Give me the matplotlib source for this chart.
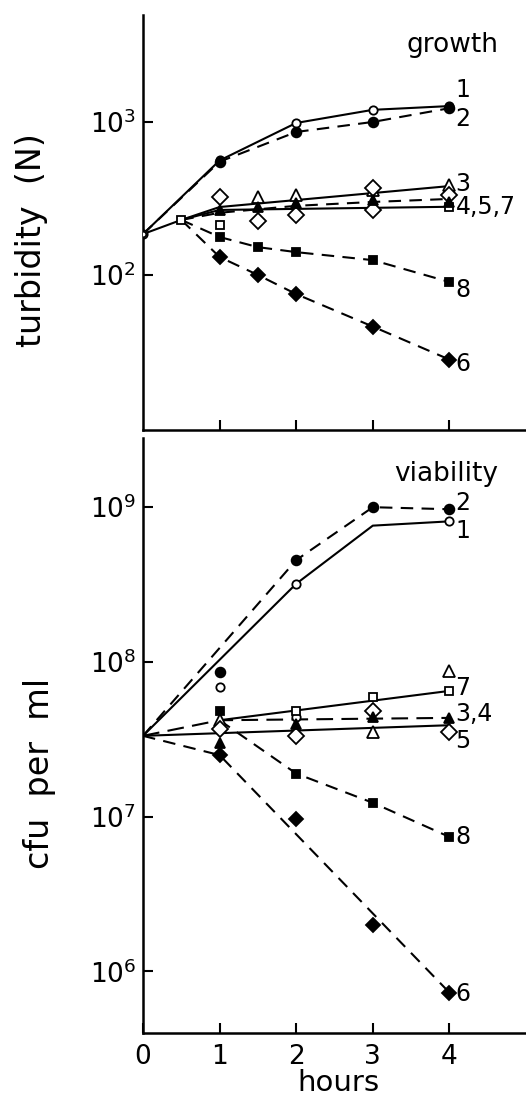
import numpy as np
import matplotlib.pyplot as plt
from matplotlib.ticker import NullLocator

# ---- top panel: growth, turbidity (N) ----
g_t = [0, 1, 2, 3, 4]
g1 = [185, 560, 985, 1200, 1270]          # 1 open circles, solid
g2 = [185, 550, 860, 1000, 1230]          # 2 filled circles, dashed

g_start_t = [0, 0.5]
g_start = [185, 229]                      # common line to the 0.5 h sample

g_tl = [0.5, 1, 1.5, 2, 3, 4]
g8 = [229, 177, 152, 141, 125, 90]        # 8 filled squares, dashed
g6 = [229, 131, 100, 75, 46, 28]          # 6 filled diamonds, dashed

g3_line_t = [0.5, 1, 4]
g3_line = [229, 278, 381]
g3_mt = [1.5, 2, 3, 4]
g3_m = [324, 333, 360, 388]               # 3 open triangles

g4_line_t = [0.5, 1, 2, 3, 4]
g4_line = [229, 255, 283, 300, 314]
g4_mt = [1, 1.5, 2, 3, 4]
g4_m = [266, 279, 296, 309, 300]          # 4 filled triangles

g5_line_t = [0.5, 1, 4]
g5_line = [229, 266, 279]
g5_mt = [1, 1.5, 2, 3, 3, 4]
g5_m = [324, 225, 246, 370, 266, 333]     # 5 open diamonds

g7_mt = [0.5, 1, 4]
g7_m = [229, 212, 279]                    # 7 open squares

# ---- bottom panel: viability, cfu per ml ----
v1_line_t = [0, 2, 3, 4]
v1_line = [3.33e7, 3.2e8, 7.6e8, 8.1e8]
v1_mt = [1, 2, 4, 2]
v1_m = [6.9e7, 3.2e8, 8.1e8, 4.4e7]

v2_line_t = [0, 2, 3, 4]
v2_line = [3.33e7, 4.55e8, 1.0e9, 9.7e8]
v2_mt = [1, 2, 3, 4]
v2_m = [8.6e7, 4.55e8, 1.0e9, 9.7e8]

v34_line_t = [0, 1, 4]
v34_line = [3.33e7, 4.2e7, 4.35e7]
v34_mt = [1, 2, 3, 4]
v34_m = [3.0e7, 4.0e7, 4.4e7, 4.35e7]
v3o_mt = [1, 3, 4]
v3o_m = [4.2e7, 3.5e7, 8.7e7]

v5_line_t = [0, 4]
v5_line = [3.33e7, 3.9e7]
v5_mt = [1, 2, 3, 4]
v5_m = [3.7e7, 3.3e7, 4.8e7, 3.5e7]

v7_line_t = [1, 4]
v7_line = [4.2e7, 6.5e7]
v7_mt = [2, 3, 4]
v7_m = [4.8e7, 5.9e7, 6.5e7]

v8_line_t = [1, 2, 3, 4]
v8_line = [4.2e7, 1.9e7, 1.23e7, 7.4e6]
v8_mt = [1, 2, 3, 4]
v8_m = [4.8e7, 1.9e7, 1.23e7, 7.4e6]

v6_line_t = [0, 1, 4]
v6_line = [3.33e7, 2.5e7, 7.3e5]
v6_mt = [1, 2, 3, 4]
v6_m = [2.5e7, 9.6e6, 2.0e6, 7.3e5]

top_labels = [("1", 1620), ("2", 1040), ("3", 395), ("4,5,7", 278), ("8", 80), ("6", 26)]
bot_labels = [("2", 1.06e9), ("1", 7.0e8), ("7", 6.8e7), ("3,4", 4.6e7), ("5", 3.1e7),
              ("8", 7.4e6), ("6", 7.1e5)]

K = 'black'
LW = 1.5
DASH = (0, (6, 4))

fig = plt.figure(figsize=(5.26, 10.98), dpi=100)
ax1 = fig.add_axes([143 / 526, 1 - 430 / 1098, 383 / 526, 415 / 1098])
ax2 = fig.add_axes([143 / 526, 1 - 1033 / 1098, 383 / 526, 595 / 1098])


def mark(ax, t, v, m, ms, filled):
    ax.plot(t, v, ls='none', marker=m, ms=ms, mec=K, mew=1.3,
            mfc=K if filled else 'white', zorder=4 if filled else 3)


# top panel
ax1.plot(g_t, g1, color=K, lw=LW)
ax1.plot(g_t, g2, color=K, lw=LW, ls=DASH)
ax1.plot(g_start_t, g_start, color=K, lw=LW)
ax1.plot(g_tl, g8, color=K, lw=LW, ls=DASH)
ax1.plot(g_tl, g6, color=K, lw=LW, ls=DASH)
ax1.plot(g3_line_t, g3_line, color=K, lw=LW)
ax1.plot(g4_line_t, g4_line, color=K, lw=LW, ls=DASH)
ax1.plot(g5_line_t, g5_line, color=K, lw=LW)

mark(ax1, g_t, g1, 'o', 6, False)
mark(ax1, g_t[1:], g2[1:], 'o', 7, True)
mark(ax1, [0], [185], 'o', 4, False)
mark(ax1, g_tl[1:], g8[1:], 's', 5.5, True)
mark(ax1, g_tl[1:], g6[1:], 'D', 7.5, True)
mark(ax1, g3_mt, g3_m, '^', 8, False)
mark(ax1, g5_mt, g5_m, 'D', 8, False)
mark(ax1, g7_mt, g7_m, 's', 6, False)
mark(ax1, g4_mt, g4_m, '^', 7, True)

# bottom panel
ax2.plot(v1_line_t, v1_line, color=K, lw=LW)
ax2.plot(v2_line_t, v2_line, color=K, lw=LW, ls=DASH)
ax2.plot(v34_line_t, v34_line, color=K, lw=LW, ls=(0, (8, 4)))
ax2.plot(v5_line_t, v5_line, color=K, lw=LW)
ax2.plot(v7_line_t, v7_line, color=K, lw=LW)
ax2.plot(v8_line_t, v8_line, color=K, lw=LW, ls=DASH)
ax2.plot(v6_line_t, v6_line, color=K, lw=LW, ls=DASH)

mark(ax2, v1_mt, v1_m, 'o', 6, False)
mark(ax2, v2_mt, v2_m, 'o', 7, True)
mark(ax2, v3o_mt, v3o_m, '^', 8, False)
mark(ax2, v5_mt, v5_m, 'D', 8, False)
mark(ax2, v7_mt, v7_m, 's', 6, False)
mark(ax2, v34_mt, v34_m, '^', 7, True)
mark(ax2, v8_mt, v8_m, 's', 5.5, True)
mark(ax2, v6_mt, v6_m, 'D', 7.5, True)

for ax in (ax1, ax2):
    ax.set_yscale('log')
    ax.set_xlim(0, 5)
    ax.spines[['top', 'right']].set_visible(False)
    ax.spines[['left', 'bottom']].set_linewidth(1.8)
    ax.yaxis.set_minor_locator(NullLocator())
    ax.tick_params(direction='in', length=7, width=1.5, labelsize=19, pad=5)
    ax.set_xticks([1, 2, 3, 4])

ax1.set_ylim(9.7, 5000)
ax1.set_yticks([1e2, 1e3])
ax1.set_yticklabels([r'$10^{2}$', r'$10^{3}$'])
ax1.tick_params(axis='x', labelbottom=False)

ax2.set_ylim(4.0e5, 2.8e9)
ax2.set_yticks([1e6, 1e7, 1e8, 1e9])
ax2.set_yticklabels([r'$10^{6}$', r'$10^{7}$', r'$10^{8}$', r'$10^{9}$'])
ax2.set_xticks([0, 1, 2, 3, 4])
ax2.set_xticklabels(['0', '1', '2', '3', '4'])
ax2.tick_params(axis='x', pad=8)

ax1.text(0.809, 0.928, 'growth', transform=ax1.transAxes, ha='center', va='center', fontsize=19)
ax2.text(0.791, 0.939, 'viability', transform=ax2.transAxes, ha='center', va='center', fontsize=19)
ax1.text(-0.29, 0.458, 'turbidity  (N)', transform=ax1.transAxes, rotation=90,
         ha='center', va='center', fontsize=24)
ax2.text(-0.27, 0.437, 'cfu  per  ml', transform=ax2.transAxes, rotation=90,
         ha='center', va='center', fontsize=24)
ax2.text(0.509, -0.084, 'hours', transform=ax2.transAxes, ha='center', va='center', fontsize=21)

for s, v in top_labels:
    ax1.text(4.08, v, s, ha='left', va='center', fontsize=17)
for s, v in bot_labels:
    ax2.text(4.08, v, s, ha='left', va='center', fontsize=17)

fig.savefig('out.png', dpi=100)
